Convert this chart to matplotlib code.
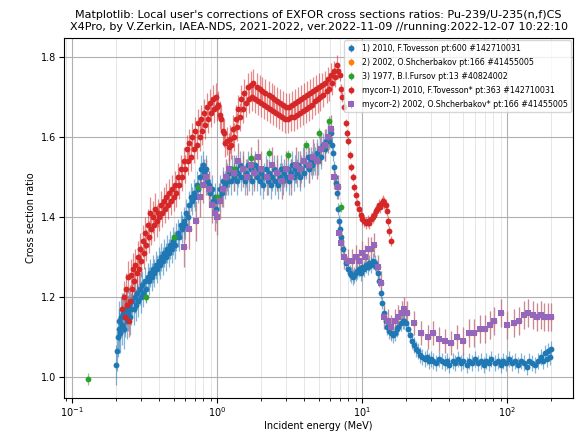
import numpy as np
import matplotlib.pyplot as plt
from matplotlib.colors import to_rgba

# each series: (E [MeV], ratio, uncertainty)

# 1) 2010, F.Tovesson
tovesson = [
    (0.200, 1.030, .05), (0.203, 1.065, .05), (0.206, 1.10, .05), (0.209, 1.12, .05), (0.212, 1.14, .05),
    (0.215, 1.11, .05), (0.218, 1.15, .05), (0.221, 1.13, .05), (0.224, 1.16, .05), (0.227, 1.12, .05),
    (0.230, 1.15, .05), (0.234, 1.17, .045), (0.238, 1.14, .045), (0.242, 1.16, .045), (0.246, 1.18, .045),
    (0.250, 1.15, .045), (0.255, 1.17, .04), (0.260, 1.19, .04), (0.265, 1.17, .04), (0.270, 1.20, .04),
    (0.275, 1.18, .04), (0.280, 1.21, .04), (0.286, 1.19, .04), (0.292, 1.22, .04), (0.298, 1.20, .04),
    (0.304, 1.23, .035), (0.310, 1.21, .035), (0.317, 1.24, .035), (0.324, 1.22, .035), (0.331, 1.25, .035),
    (0.338, 1.24, .035), (0.345, 1.26, .035), (0.353, 1.25, .035), (0.361, 1.27, .035), (0.369, 1.26, .035),
    (0.377, 1.28, .035), (0.386, 1.27, .035), (0.395, 1.29, .035), (0.404, 1.28, .035), (0.413, 1.30, .035),
    (0.423, 1.29, .035), (0.433, 1.31, .035), (0.443, 1.30, .035), (0.453, 1.32, .035), (0.464, 1.31, .035),
    (0.475, 1.33, .035), (0.486, 1.32, .035), (0.497, 1.34, .035), (0.509, 1.33, .035), (0.521, 1.35, .035),
    (0.533, 1.36, .035), (0.546, 1.35, .035), (0.559, 1.38, .035), (0.572, 1.37, .035), (0.586, 1.39, .035),
    (0.600, 1.38, .035), (0.614, 1.41, .035), (0.629, 1.40, .035), (0.644, 1.43, .035), (0.659, 1.45, .035),
    (0.675, 1.44, .035), (0.691, 1.46, .035), (0.707, 1.45, .035), (0.724, 1.48, .035), (0.741, 1.47, .035),
    (0.759, 1.50, .035), (0.777, 1.52, .035), (0.795, 1.53, .035), (0.814, 1.51, .035), (0.833, 1.52, .035),
    (0.853, 1.49, .035), (0.873, 1.48, .035), (0.894, 1.46, .035), (0.915, 1.47, .035), (0.937, 1.44, .035),
    (0.959, 1.45, .035), (0.982, 1.42, .035), (1.005, 1.44, .035), (1.03, 1.45, .035), (1.05, 1.47, .035),
    (1.08, 1.46, .035), (1.10, 1.49, .035), (1.13, 1.48, .035), (1.16, 1.50, .035), (1.18, 1.49, .035),
    (1.21, 1.51, .035), (1.24, 1.49, .035), (1.27, 1.52, .035), (1.30, 1.50, .035), (1.34, 1.52, .035),
    (1.37, 1.49, .035), (1.40, 1.51, .035), (1.44, 1.53, .035), (1.47, 1.50, .035), (1.51, 1.52, .035),
    (1.55, 1.49, .035), (1.58, 1.51, .035), (1.62, 1.53, .035), (1.66, 1.50, .035), (1.70, 1.52, .035),
    (1.75, 1.49, .035), (1.79, 1.51, .035), (1.83, 1.53, .035), (1.88, 1.50, .035), (1.92, 1.52, .035),
    (1.97, 1.49, .035), (2.02, 1.51, .035), (2.07, 1.48, .035), (2.12, 1.50, .035), (2.17, 1.52, .035),
    (2.23, 1.49, .035), (2.28, 1.51, .035), (2.34, 1.48, .035), (2.40, 1.50, .035), (2.46, 1.52, .035),
    (2.52, 1.49, .035), (2.58, 1.51, .035), (2.64, 1.48, .035), (2.71, 1.50, .035), (2.77, 1.52, .035),
    (2.84, 1.49, .035), (2.91, 1.51, .035), (2.99, 1.50, .035), (3.06, 1.52, .035), (3.14, 1.49, .035),
    (3.21, 1.51, .035), (3.29, 1.53, .035), (3.37, 1.50, .035), (3.46, 1.52, .035), (3.54, 1.51, .035),
    (3.63, 1.53, .035), (3.72, 1.50, .035), (3.81, 1.52, .035), (3.91, 1.54, .035), (4.00, 1.51, .035),
    (4.10, 1.53, .035), (4.20, 1.55, .035), (4.31, 1.52, .035), (4.41, 1.54, .035), (4.52, 1.53, .035),
    (4.64, 1.55, .035), (4.75, 1.54, .035), (4.87, 1.56, .035), (4.99, 1.54, .035), (5.11, 1.57, .035),
    (5.24, 1.55, .03), (5.37, 1.58, .03), (5.50, 1.57, .03), (5.64, 1.59, .03), (5.78, 1.60, .025),
    (5.92, 1.59, .02), (6.07, 1.61, .02), (6.20, 1.58, .02), (6.30, 1.56, .02), (6.40, 1.525, .015),
    (6.50, 1.50, .015), (6.60, 1.485, .015), (6.70, 1.46, .015), (6.80, 1.42, .015), (6.90, 1.39, .015),
    (7.00, 1.37, .015), (7.10, 1.35, .015), (7.20, 1.34, .015), (7.35, 1.32, .015), (7.50, 1.30, .015),
    (7.70, 1.285, .015), (8.00, 1.27, .015), (8.20, 1.26, .02), (8.40, 1.255, .02), (8.60, 1.25, .02),
    (8.80, 1.255, .02), (9.00, 1.26, .02), (9.25, 1.265, .02), (9.50, 1.27, .02), (9.75, 1.26, .02),
    (10.0, 1.275, .02), (10.3, 1.27, .02), (10.6, 1.28, .02), (10.9, 1.275, .02), (11.2, 1.285, .02),
    (11.5, 1.28, .02), (11.9, 1.29, .02), (12.2, 1.285, .02), (12.5, 1.275, .02), (12.8, 1.26, .015),
    (13.1, 1.24, .015), (13.5, 1.21, .015), (13.8, 1.185, .015), (14.1, 1.16, .015), (14.5, 1.14, .02),
    (14.9, 1.125, .02), (15.3, 1.115, .02), (15.8, 1.11, .02), (16.3, 1.105, .02), (16.8, 1.11, .02),
    (17.3, 1.12, .02), (17.8, 1.125, .02), (18.4, 1.135, .02), (19.0, 1.14, .02), (19.5, 1.14, .02),
    (20.1, 1.135, .02), (20.7, 1.12, .02), (21.4, 1.105, .02), (22.1, 1.09, .02), (22.8, 1.08, .02),
    (23.6, 1.07, .02), (24.4, 1.065, .02), (25.2, 1.055, .02), (26.0, 1.05, .02), (27.0, 1.045, .02),
    (28.0, 1.05, .02), (29.0, 1.04, .02), (30.0, 1.045, .02), (31.0, 1.04, .02), (32.5, 1.035, .02),
    (34.0, 1.045, .02), (35.5, 1.04, .02), (37.0, 1.035, .02), (38.5, 1.04, .02), (40.0, 1.03, .02),
    (42.0, 1.04, .02), (44.0, 1.035, .02), (46.0, 1.045, .02), (48.0, 1.035, .02), (50.0, 1.04, .02),
    (52.5, 1.03, .02), (55.0, 1.04, .02), (57.5, 1.035, .02), (60.0, 1.045, .02), (63.0, 1.035, .02),
    (66.0, 1.04, .02), (69.0, 1.03, .02), (72.0, 1.04, .02), (75.0, 1.035, .02), (78.0, 1.045, .02),
    (82.0, 1.035, .02), (86.0, 1.04, .02), (90.0, 1.03, .02), (94.0, 1.04, .02), (98.0, 1.035, .02),
    (103., 1.045, .02), (108., 1.035, .02), (113., 1.04, .02), (118., 1.03, .02), (124., 1.04, .02),
    (130., 1.035, .02), (136., 1.025, .02), (142., 1.04, .02), (149., 1.035, .02), (156., 1.03, .02),
    (163., 1.04, .02), (170., 1.05, .02), (176., 1.04, .02), (182., 1.06, .02), (187., 1.045, .02),
    (192., 1.065, .02), (196., 1.05, .02), (200., 1.07, .02),
]

# 2) 2002, O.Shcherbakov (mycorr-2 shares the same points)
shcherbakov = [
    (0.59, 1.325, .05), (0.64, 1.37, .05), (0.72, 1.39, .05), (0.76, 1.45, .05), (0.80, 1.48, .045),
    (0.84, 1.50, .045), (0.88, 1.47, .045), (0.92, 1.43, .045), (0.96, 1.41, .045), (1.00, 1.40, .045),
    (1.05, 1.44, .045), (1.10, 1.47, .045), (1.15, 1.50, .045), (1.20, 1.52, .045), (1.30, 1.51, .045),
    (1.40, 1.54, .045), (1.50, 1.52, .045), (1.60, 1.50, .045), (1.70, 1.53, .045), (1.80, 1.51, .045),
    (1.90, 1.55, .045), (2.00, 1.52, .045), (2.20, 1.50, .045), (2.40, 1.53, .045), (2.60, 1.51, .045),
    (2.80, 1.49, .045), (3.00, 1.52, .045), (3.25, 1.50, .045), (3.50, 1.53, .045), (3.75, 1.52, .045),
    (4.00, 1.54, .045), (4.30, 1.53, .045), (4.60, 1.55, .045), (4.90, 1.54, .045), (5.20, 1.57, .04),
    (5.50, 1.58, .04), (5.80, 1.60, .04), (6.10, 1.62, .035), (6.40, 1.50, .03), (6.80, 1.475, .03),
    (6.90, 1.36, .03), (7.20, 1.335, .03), (7.50, 1.30, .03), (8.00, 1.29, .03), (8.50, 1.29, .03),
    (9.00, 1.30, .03), (9.50, 1.29, .03), (10.0, 1.31, .03), (10.5, 1.30, .03), (11.0, 1.32, .03),
    (11.5, 1.32, .03), (12.0, 1.33, .03), (12.8, 1.275, .03), (13.5, 1.235, .03), (14.1, 1.15, .03),
    (15.0, 1.14, .03), (15.8, 1.125, .03), (16.8, 1.14, .03), (17.8, 1.15, .03), (18.7, 1.16, .03),
    (19.5, 1.17, .03), (20.5, 1.16, .03), (22.8, 1.135, .03), (25.5, 1.11, .03), (28.5, 1.10, .03),
    (31.0, 1.11, .03), (34.0, 1.095, .03), (37.0, 1.09, .03), (41.0, 1.085, .03), (45.0, 1.10, .03),
    (50.0, 1.09, .035), (55.0, 1.11, .035), (59.0, 1.11, .035), (65.0, 1.12, .035), (70.0, 1.12, .035),
    (76.0, 1.13, .035), (81.0, 1.14, .035), (91.0, 1.16, .035), (100., 1.13, .035), (112., 1.135, .035),
    (120., 1.14, .035), (130., 1.155, .035), (139., 1.16, .035), (150., 1.155, .035), (160., 1.15, .035),
    (170., 1.155, .035), (180., 1.15, .035), (190., 1.15, .035), (200., 1.15, .035),
]

# 3) 1977, B.I.Fursov
fursov = [
    (0.129, 0.995, .015), (0.324, 1.20, .012), (0.505, 1.35, .012), (0.74, 1.475, .012),
    (1.00, 1.45, .012), (1.30, 1.52, .012), (1.72, 1.547, .012), (2.28, 1.56, .012),
    (3.09, 1.555, .012), (4.10, 1.58, .012), (5.05, 1.61, .012), (5.90, 1.64, .012),
    (7.20, 1.425, .012),
]

# mycorr-1) 2010, F.Tovesson*
tovesson_corr = [
    (0.222, 1.17, .04), (0.226, 1.20, .04), (0.230, 1.15, .04), (0.234, 1.22, .04), (0.238, 1.18, .04),
    (0.242, 1.25, .04), (0.246, 1.14, .04), (0.250, 1.19, .04), (0.254, 1.255, .04), (0.258, 1.22, .04),
    (0.263, 1.27, .04), (0.268, 1.24, .04), (0.273, 1.28, .04), (0.278, 1.26, .04), (0.283, 1.30, .04),
    (0.288, 1.27, .04), (0.294, 1.32, .04), (0.300, 1.29, .04), (0.306, 1.34, .04), (0.312, 1.31, .04),
    (0.318, 1.36, .04), (0.324, 1.33, .04), (0.331, 1.38, .04), (0.338, 1.35, .04), (0.345, 1.41, .04),
    (0.352, 1.37, .04), (0.359, 1.40, .04), (0.367, 1.38, .04), (0.375, 1.42, .04), (0.383, 1.39, .04),
    (0.391, 1.41, .035), (0.400, 1.40, .035), (0.409, 1.43, .035), (0.418, 1.41, .035), (0.427, 1.44, .035),
    (0.437, 1.42, .035), (0.447, 1.45, .035), (0.457, 1.43, .035), (0.467, 1.46, .035), (0.478, 1.44, .035),
    (0.489, 1.47, .035), (0.500, 1.45, .035), (0.512, 1.48, .035), (0.524, 1.46, .035), (0.536, 1.50, .035),
    (0.548, 1.48, .035), (0.561, 1.52, .035), (0.574, 1.50, .035), (0.587, 1.54, .035), (0.601, 1.52, .035),
    (0.615, 1.57, .035), (0.629, 1.54, .035), (0.644, 1.585, .035), (0.659, 1.55, .035), (0.674, 1.60, .035),
    (0.690, 1.57, .035), (0.706, 1.615, .035), (0.722, 1.58, .035), (0.739, 1.635, .035), (0.756, 1.60, .035),
    (0.774, 1.645, .035), (0.792, 1.615, .035), (0.810, 1.66, .035), (0.829, 1.63, .035), (0.848, 1.675, .035),
    (0.868, 1.645, .035), (0.888, 1.685, .035), (0.909, 1.66, .035), (0.930, 1.695, .035), (0.952, 1.67, .035),
    (0.974, 1.70, .035), (0.997, 1.675, .035), (1.02, 1.68, .035), (1.04, 1.655, .035), (1.07, 1.645, .035),
    (1.09, 1.615, .035), (1.12, 1.61, .035), (1.14, 1.585, .035), (1.17, 1.59, .035), (1.20, 1.575, .035),
    (1.22, 1.595, .035), (1.25, 1.58, .035), (1.28, 1.62, .035), (1.31, 1.60, .035), (1.34, 1.645, .035),
    (1.37, 1.625, .035), (1.40, 1.67, .035), (1.44, 1.65, .035), (1.47, 1.695, .035), (1.51, 1.67, .035),
    (1.54, 1.71, .035), (1.58, 1.685, .035), (1.62, 1.725, .035), (1.66, 1.695, .035), (1.70, 1.73, .035),
    (1.74, 1.70, .035), (1.78, 1.735, .035), (1.82, 1.695, .035), (1.87, 1.725, .035), (1.91, 1.69, .035),
    (1.96, 1.72, .035), (2.00, 1.685, .035), (2.05, 1.715, .035), (2.10, 1.68, .035), (2.15, 1.71, .035),
    (2.21, 1.675, .035), (2.26, 1.705, .035), (2.31, 1.67, .035), (2.37, 1.70, .035), (2.42, 1.665, .035),
    (2.48, 1.695, .035), (2.54, 1.66, .035), (2.60, 1.69, .035), (2.66, 1.655, .035), (2.73, 1.685, .035),
    (2.79, 1.65, .035), (2.86, 1.68, .035), (2.93, 1.645, .035), (3.00, 1.675, .035), (3.07, 1.645, .035),
    (3.14, 1.675, .035), (3.22, 1.65, .035), (3.29, 1.68, .035), (3.37, 1.65, .035), (3.45, 1.685, .035),
    (3.54, 1.655, .035), (3.62, 1.69, .035), (3.71, 1.66, .035), (3.80, 1.695, .035), (3.89, 1.665, .035),
    (3.98, 1.70, .035), (4.08, 1.67, .035), (4.17, 1.705, .035), (4.28, 1.675, .035), (4.38, 1.71, .035),
    (4.48, 1.68, .035), (4.59, 1.715, .035), (4.70, 1.69, .035), (4.81, 1.72, .035), (4.93, 1.695, .035),
    (5.04, 1.725, .035), (5.16, 1.70, .035), (5.29, 1.73, .03), (5.41, 1.705, .03), (5.54, 1.735, .03),
    (5.68, 1.715, .03), (5.81, 1.745, .03), (5.95, 1.72, .03), (6.09, 1.755, .03), (6.24, 1.735, .03),
    (6.39, 1.765, .025), (6.54, 1.75, .025), (6.70, 1.78, .025), (6.85, 1.765, .02), (7.00, 1.755, .015),
    (7.15, 1.72, .012), (7.30, 1.70, .012), (7.50, 1.675, .01), (7.70, 1.635, .01), (7.85, 1.61, .01),
    (8.00, 1.59, .01), (8.20, 1.555, .01), (8.40, 1.525, .01), (8.60, 1.50, .01), (8.80, 1.475, .01),
    (9.00, 1.455, .01), (9.25, 1.435, .01), (9.50, 1.42, .012), (9.75, 1.405, .012), (10.0, 1.395, .015),
    (10.3, 1.39, .015), (10.6, 1.385, .015), (10.9, 1.39, .015), (11.2, 1.385, .015), (11.5, 1.395, .015),
    (11.8, 1.40, .015), (12.1, 1.405, .015), (12.4, 1.415, .015), (12.7, 1.42, .015), (13.0, 1.43, .015),
    (13.3, 1.425, .015), (13.6, 1.435, .015), (13.9, 1.44, .015), (14.2, 1.435, .015), (14.5, 1.43, .015),
    (14.8, 1.415, .012), (15.1, 1.39, .012), (15.4, 1.365, .012), (15.7, 1.34, .012),
]

labels = ["1) 2010, F.Tovesson pt:600 #142710031",
          "2) 2002, O.Shcherbakov pt:166 #41455005",
          "3) 1977, B.I.Fursov pt:13 #40824002",
          "mycorr-1) 2010, F.Tovesson* pt:363 #142710031",
          "mycorr-2) 2002, O.Shcherbakov* pt:166 #41455005"]

fig = plt.figure(figsize=(5.83, 4.33), dpi=100)
ax = fig.add_axes([0.110, 0.081, 0.873, 0.831])


def draw(points, color, marker, label, ms=4.2):
    e, r, d = (np.array(c) for c in zip(*points))
    ax.errorbar(e, r, yerr=d, fmt=marker, color=color, ms=ms, mew=0,
                ecolor=to_rgba(color, 0.55), elinewidth=0.9, capsize=1.8,
                capthick=0.7, label=label)


draw(tovesson, "tab:blue", "o", labels[0])
draw(shcherbakov, "tab:orange", "o", labels[1])
draw(fursov, "tab:green", "o", labels[2])
draw(tovesson_corr, "tab:red", "o", labels[3])
draw(shcherbakov, "tab:purple", "s", labels[4])

ax.set_xscale("log")
ax.set_xlim(0.088, 285)
ax.set_ylim(0.9475, 1.8475)
ax.set_yticks([1.0, 1.2, 1.4, 1.6, 1.8])
ax.grid(True, which="major", color="#b0b0b0", lw=0.8)
ax.grid(True, which="minor", axis="x", color="#e2e2e2", lw=0.6)
ax.tick_params(labelsize=7, pad=2)
ax.set_xlabel("Incident energy (MeV)", fontsize=7, labelpad=1)
ax.set_ylabel("Cross section ratio", fontsize=7)
ax.set_title("Matplotlib: Local user's corrections of EXFOR cross sections ratios: Pu-239/U-235(n,f)CS\n"
             "X4Pro, by V.Zerkin, IAEA-NDS, 2021-2022, ver.2022-11-09 //running:2022-12-07 10:22:10",
             fontsize=8)
ax.legend(loc="upper right", fontsize=5.7, handlelength=1.0, borderpad=0.4,
          labelspacing=0.65, borderaxespad=0.3)

fig.savefig("out.png", dpi=100)
